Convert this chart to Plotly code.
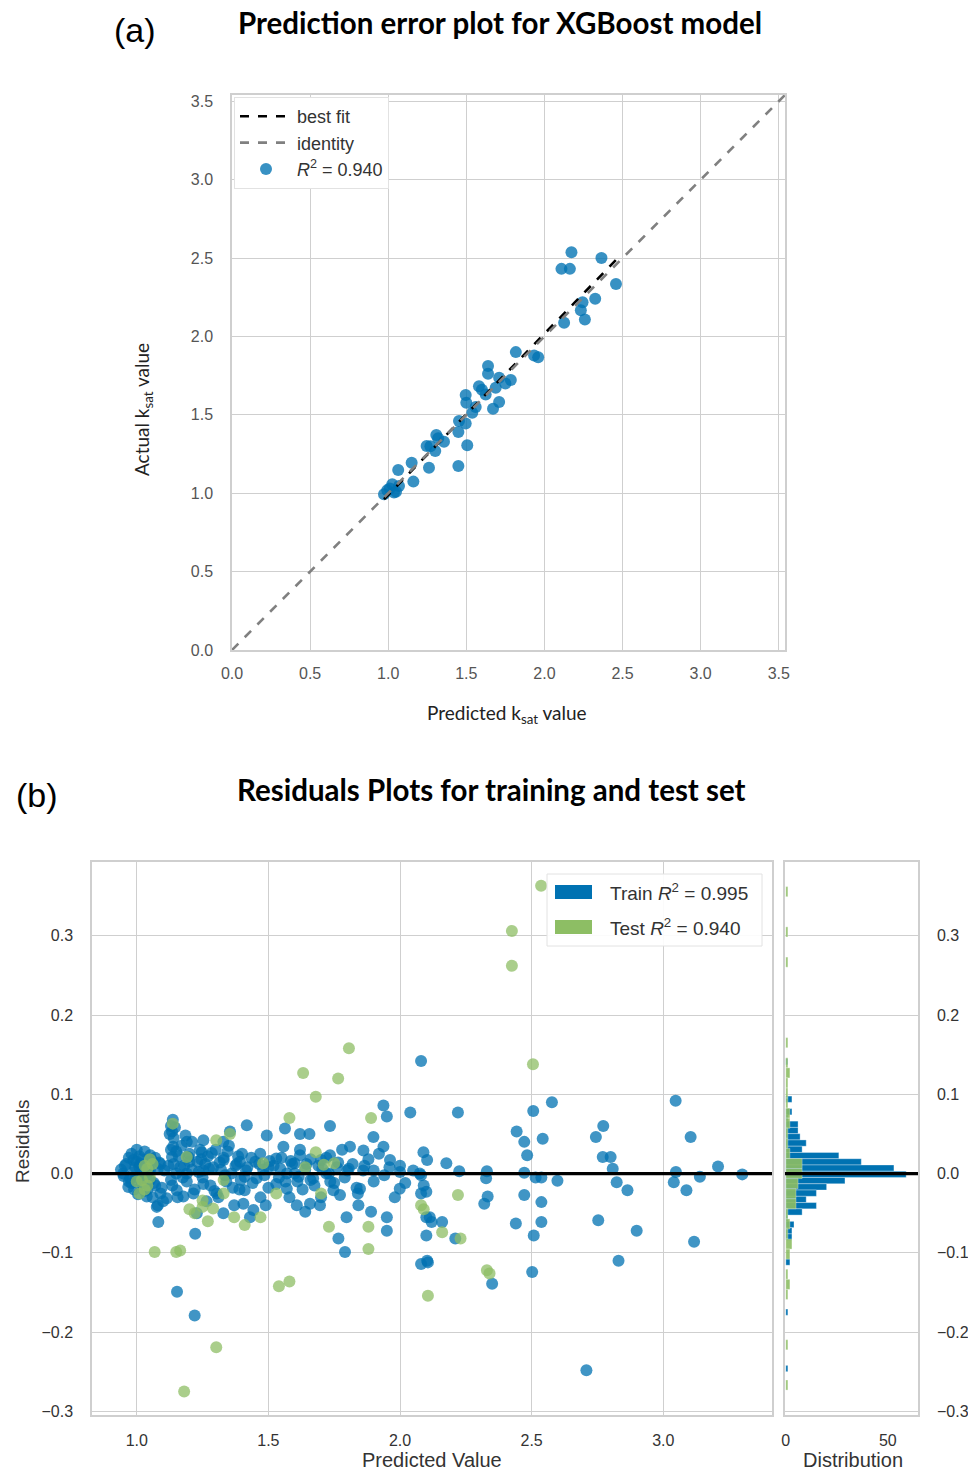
import numpy as np
import plotly.graph_objects as go

# ---------------- data: panel (a) prediction error (test set) ----------------
a_pred = [2.173, 2.365, 2.109, 2.163, 2.458, 2.325, 2.244, 2.233, 2.259, 2.126,
          1.817, 1.934, 1.960, 1.639, 1.639, 1.785, 1.710, 1.581, 1.624, 1.688,
          1.496, 1.500, 1.710, 1.671, 1.538, 1.453, 1.496, 1.449, 1.506, 1.449,
          1.308, 1.357, 1.246, 1.301, 1.261, 1.150, 1.064, 1.161, 1.026, 0.994,
          1.037, 0.973, 1.069, 1.600, 1.750, 1.560, 1.270, 1.320, 1.010, 1.050]
a_actual = [2.537, 2.501, 2.431, 2.431, 2.335, 2.240, 2.218, 2.167, 2.108, 2.087,
            1.900, 1.879, 1.868, 1.811, 1.762, 1.722, 1.737, 1.683, 1.630, 1.673,
            1.626, 1.577, 1.582, 1.539, 1.513, 1.460, 1.444, 1.390, 1.306, 1.174,
            1.371, 1.329, 1.301, 1.269, 1.163, 1.195, 1.148, 1.074, 1.057, 1.019,
            1.004, 0.993, 1.046, 1.660, 1.700, 1.550, 1.300, 1.350, 1.030, 1.010]
a_r2_label = "<i>R</i><sup>2</sup>\u00a0=\u00a00.940"

# ---------------- data: panel (b) residuals ----------------
train_pred = [
    1.137, 1.134, 1.190, 1.138, 1.134, 1.196, 1.247, 1.253, 1.329, 1.354, 1.418, 1.494, 1.563, 1.620, 1.656,
    1.734, 1.937, 1.950, 2.039, 1.899, 1.861, 1.937, 1.962, 2.089, 1.810, 1.734, 1.557, 1.469, 1.392, 1.051,
    0.987, 0.949, 0.968, 1.025, 1.038, 1.076, 1.082, 1.114, 1.152, 1.177, 1.228, 1.222, 1.253, 1.304, 1.329,
    1.253, 1.190, 1.330, 1.410, 1.410, 1.405, 1.443, 1.430, 1.490, 1.530, 1.570, 1.608, 1.640, 1.658, 1.696,
    1.747, 1.772, 1.766, 1.797, 1.791, 1.848, 1.842, 1.890, 1.950, 1.950, 1.999, 2.100, 2.075, 2.113, 2.106,
    1.500, 1.600, 1.660, 1.720, 1.800, 1.900, 2.000, 1.600, 1.530, 1.620, 1.700,
    2.220, 2.506, 2.577, 2.443, 2.472, 2.542, 2.483, 2.772, 2.744, 2.770, 2.800, 2.808, 2.823, 2.864, 3.047,
    3.104, 3.048, 3.040, 3.088, 3.139, 3.208, 3.300, 2.899, 2.753, 2.830, 3.117, 2.103, 2.176, 2.225, 2.330,
    2.327, 2.333, 2.320, 2.472, 2.515, 2.537, 2.598, 2.472, 2.537, 2.440, 2.537, 2.508, 2.502, 2.080, 2.090,
    2.080, 2.100, 2.120, 2.160, 2.100, 2.210, 2.103, 2.080, 1.153, 1.220, 2.708, 2.350, 2.080,
    0.940, 0.950, 0.960, 0.970, 0.970, 0.980, 0.990, 0.990, 1.000, 1.000, 1.010, 1.010, 1.020, 1.020, 1.030,
    1.030, 1.040, 1.040, 1.050, 1.050, 1.060, 1.060, 1.070, 1.070, 1.080, 1.090, 1.090, 1.100, 0.980, 1.000,
    1.030, 1.080,
    1.130, 1.140, 1.130, 1.140, 1.150, 1.130, 1.160, 1.170, 1.180, 1.190, 1.200, 1.210, 1.210, 1.220, 1.230,
    1.240, 1.250, 1.260, 1.270, 1.280, 1.290, 1.300, 1.310, 1.320, 1.330, 1.340, 1.350, 1.360, 1.370, 1.380,
    1.390, 1.400, 1.420, 1.440, 1.450, 1.470, 1.480, 1.500, 1.520, 1.540, 1.550, 1.570, 1.580, 1.590, 1.610,
    1.620, 1.630, 1.640, 1.660, 1.670, 1.690, 1.700, 1.720, 1.730, 1.750, 1.760, 1.780, 1.790, 1.820, 1.840,
    1.860, 1.880, 1.900, 1.920, 1.940, 1.960, 1.980, 2.000, 2.020, 2.050,
    1.120, 1.125, 1.135, 1.145, 1.150, 1.155, 1.165, 1.175, 1.185, 1.200, 1.215, 1.235, 1.245, 1.265, 1.275,
    1.285, 1.295, 1.315, 1.335, 1.345, 1.365, 1.375, 1.385, 1.395, 1.415, 1.435, 1.455, 1.465, 1.485, 1.505,
    0.955, 0.975, 0.995, 1.005, 1.015, 1.035, 1.045, 1.055, 1.065, 1.085, 1.095, 1.105, 1.545, 1.565, 1.585,
    1.615, 1.645, 1.675, 1.705, 1.735, 1.765, 1.805, 1.835, 1.865]
train_resid = [
    0.068, 0.053, 0.040, 0.034, 0.021, 0.021, 0.027, 0.042, 0.040, 0.053, 0.061, 0.048, 0.057, 0.050, 0.050,
    0.060, 0.086, 0.072, 0.077, 0.046, 0.029, 0.034, 0.017, 0.027, 0.034, 0.023, 0.034, 0.025, 0.015, 0.023,
    0.017, 0.000, -0.017, -0.017, -0.029, -0.042, -0.061, -0.031, -0.021, -0.029, -0.050, -0.076, -0.013, -0.025, -0.050,
    0.004, 0.000, 0.017, -0.004, -0.021, -0.038, -0.046, -0.055, -0.040, -0.013, -0.019, -0.040, -0.048, -0.038, -0.040,
    -0.021, -0.027, -0.082, -0.055, -0.099, -0.019, -0.040, -0.048, -0.055, -0.072, -0.019, -0.023, 0.000, -0.055, -0.112,
    0.008, 0.000, -0.008, 0.000, 0.004, 0.004, 0.002, 0.013, 0.019, 0.023, 0.017,
    0.077, 0.079, 0.090, 0.053, 0.040, 0.044, 0.023, 0.060, 0.046, 0.021, 0.021, 0.006, -0.011, -0.021, 0.092,
    0.046, 0.002, -0.011, -0.021, -0.004, 0.009, -0.001, -0.072, -0.059, -0.110, -0.086, 0.017, 0.013, 0.003, 0.003,
    -0.006, -0.029, -0.038, 0.001, -0.005, -0.005, -0.009, -0.027, -0.036, -0.063, -0.061, -0.078, -0.124, -0.002, -0.015,
    -0.025, -0.055, -0.061, -0.061, -0.078, -0.082, -0.110, -0.114, -0.149, -0.179, -0.248, -0.139, 0.142,
    0.005, -0.003, 0.012, 0.020, -0.010, 0.025, 0.002, -0.020, 0.015, -0.005, 0.022, 0.008, -0.012, 0.018, 0.000,
    0.028, -0.020, 0.010, 0.004, -0.008, 0.016, -0.030, 0.020, -0.015, 0.006, -0.025, 0.012, -0.035, -0.012, 0.030,
    -0.022, -0.040,
    0.060, 0.045, 0.030, 0.012, 0.000, -0.008, 0.022, 0.035, 0.010, -0.010, 0.025, 0.040, 0.005, -0.020, 0.015,
    0.030, -0.005, 0.012, 0.022, -0.015, 0.008, 0.030, -0.030, 0.005, 0.020, -0.010, 0.035, 0.000, -0.040, 0.012,
    -0.020, 0.025, 0.008, -0.012, 0.015, -0.030, 0.005, -0.018, 0.010, -0.005, 0.020, 0.000, -0.030, 0.012, -0.010,
    0.030, -0.020, 0.005, 0.018, -0.006, 0.010, -0.030, 0.020, 0.000, -0.012, 0.008, 0.030, -0.005, 0.012, -0.025,
    0.004, 0.018, -0.010, 0.025, -0.002, 0.008, -0.030, 0.010, -0.012, 0.004,
    0.010, 0.050, -0.015, 0.058, 0.028, -0.030, 0.008, -0.005, 0.048, 0.015, -0.025, 0.002, 0.018, -0.035, 0.006,
    0.026, -0.022, 0.014, -0.002, 0.028, -0.018, 0.010, 0.022, -0.008, 0.004, 0.020, -0.006, 0.012, -0.002, 0.016,
    0.010, -0.006, 0.008, -0.026, 0.012, -0.004, 0.006, 0.018, -0.012, 0.014, -0.018, 0.004, 0.006, -0.010, 0.016,
    -0.004, 0.012, -0.015, 0.006, -0.010, 0.014, 0.006, -0.018, 0.010]

test_pred = [2.536, 2.425, 2.425, 2.505, 1.806, 1.632, 1.765, 1.680, 1.890, 1.580, 1.137, 1.190, 1.302, 1.354,
             1.680, 1.480, 1.640, 1.710, 1.750, 1.040, 1.020, 1.010, 1.330, 1.330, 1.250, 1.250, 1.290, 1.530,
             1.700, 1.470, 1.410, 1.730, 1.880, 1.880, 1.068, 1.150, 1.165, 2.090, 2.220, 2.080, 2.160, 2.230,
             2.330, 1.302, 1.180, 1.540, 1.580, 2.106, 2.340, 1.030, 1.050, 1.040, 1.060, 1.030, 1.050, 1.000,
             1.200, 1.220, 1.370, 1.270]
test_resid = [0.363, 0.306, 0.262, 0.138, 0.158, 0.127, 0.120, 0.097, 0.070, 0.070, 0.063, 0.021, 0.042, 0.050,
              0.027, 0.013, 0.008, 0.011, 0.013, 0.006, -0.008, -0.025, -0.008, -0.025, -0.034, -0.042, -0.044, -0.025,
              -0.025, -0.055, -0.065, -0.067, -0.067, -0.095, -0.099, -0.099, -0.097, -0.045, -0.027, -0.040, -0.074, -0.082,
              -0.122, -0.219, -0.275, -0.142, -0.136, -0.154, -0.126, 0.010, -0.005, -0.015, 0.012, -0.020, 0.018, -0.010,
              -0.045, -0.050, -0.055, -0.060]

# histogram bins (centres and counts)
train_bin_centres = [0.1412, 0.0938, 0.0780, 0.0701, 0.0622, 0.0543, 0.0464, 0.0385, 0.0306, 0.0227, 0.0148,
                     0.0069, -0.0010, -0.0089, -0.0168, -0.0247, -0.0326, -0.0405, -0.0484, -0.0563, -0.0642,
                     -0.0721, -0.0800, -0.1116, -0.1748, -0.2459]
train_bin_counts = [1, 3, 3, 1, 6, 6, 7, 10, 8, 26, 37, 53, 59, 29, 20, 15, 10, 15, 8, 1, 4, 3, 3, 2, 1, 1]
test_bin_centres = [0.3556, 0.3048, 0.2667, 0.1651, 0.1397, 0.1270, 0.1143, 0.1016, 0.0889, 0.0762, 0.0635,
                    0.0508, 0.0381, 0.0254, 0.0127, 0.0000, -0.0127, -0.0254, -0.0381, -0.0508, -0.0635,
                    -0.0762, -0.0889, -0.1016, -0.1270, -0.1397, -0.1524, -0.2159, -0.2667]
test_bin_counts = [1, 1, 1, 1, 1, 2, 1, 1, 1, 2, 2, 1, 1, 2, 8, 8, 6, 5, 5, 1, 2, 1, 3, 2, 1, 2, 1, 1, 1]

train_label = "Train <i>R</i><sup>2</sup>\u00a0=\u00a00.995"
test_label = "Test <i>R</i><sup>2</sup>\u00a0=\u00a00.940"

a_ticks = [0.0, 0.5, 1.0, 1.5, 2.0, 2.5, 3.0, 3.5]
b_xticks = [1.0, 1.5, 2.0, 2.5, 3.0]
b_yticks = [-0.3, -0.2, -0.1, 0.0, 0.1, 0.2, 0.3]
hist_ticks = [0, 50]

# ---------------- styling ----------------
W, H = 968, 1471
BLUE = "#0072B2"
GREEN = "#8DBE64"
GRID = "#cfcfcf"
SANS = "Liberation Sans, Arial, sans-serif"
TITLE_FONT = "Lato, Open Sans, sans-serif"


def px(x):
    return x / W


def py(y):
    return 1 - y / H


fig = go.Figure()

# panel (a)
fig.add_trace(go.Scatter(x=a_pred, y=a_actual, mode="markers", name=a_r2_label,
                         marker=dict(color=BLUE, size=12, opacity=0.78, line=dict(width=0)),
                         xaxis="x", yaxis="y", legend="legend", legendrank=3))
coef = np.polyfit(a_pred, a_actual, 1)
bx = np.array([min(a_pred), max(a_pred)])
fig.add_trace(go.Scatter(x=bx, y=np.polyval(coef, bx), mode="lines", name="best fit",
                         line=dict(color="black", width=2.6, dash="dash"),
                         xaxis="x", yaxis="y", legend="legend", legendrank=1))
fig.add_trace(go.Scatter(x=[0, 3.54], y=[0, 3.54], mode="lines", name="identity",
                         line=dict(color="#808080", width=2.6, dash="dash"),
                         xaxis="x", yaxis="y", legend="legend", legendrank=2))

# panel (b) scatter
fig.add_trace(go.Scatter(x=train_pred, y=train_resid, mode="markers", showlegend=False,
                         marker=dict(color=BLUE, size=12, opacity=0.75, line=dict(width=0)),
                         xaxis="x2", yaxis="y2"))
fig.add_trace(go.Scatter(x=test_pred, y=test_resid, mode="markers", showlegend=False,
                         marker=dict(color=GREEN, size=12, opacity=0.75, line=dict(width=0)),
                         xaxis="x2", yaxis="y2"))

# histogram panel
fig.add_trace(go.Bar(x=train_bin_counts, y=train_bin_centres, orientation="h", width=0.0079,
                     marker=dict(color=BLUE, line=dict(color="rgba(255,255,255,0.55)", width=0.6)),
                     showlegend=False, xaxis="x3", yaxis="y3"))
fig.add_trace(go.Bar(x=test_bin_counts, y=test_bin_centres, orientation="h", width=0.0127,
                     marker=dict(color=GREEN, opacity=0.9, line=dict(color="rgba(255,255,255,0.55)", width=0.6)),
                     showlegend=False, xaxis="x3", yaxis="y3"))

axis_common = dict(showgrid=True, gridcolor=GRID, gridwidth=1.3, zeroline=False, automargin=False,
                   showline=True, linecolor=GRID, linewidth=1.5, mirror=True, ticks="")

fig.update_layout(
    width=W, height=H, margin=dict(l=0, r=0, t=0, b=0, autoexpand=False),
    paper_bgcolor="white", plot_bgcolor="white", barmode="overlay",
    xaxis=dict(domain=[px(232), px(785)], range=[0, 3.54], tickvals=a_ticks, tickformat=".1f",
               tickfont=dict(family=SANS, size=16, color="#555555"), anchor="y",
               ticklabelstandoff=8, **axis_common),
    yaxis=dict(domain=[py(650), py(95)], range=[0, 3.54], tickvals=a_ticks, tickformat=".1f",
               tickfont=dict(family=SANS, size=16, color="#555555"), anchor="x",
               ticklabelstandoff=14, **axis_common),
    xaxis2=dict(domain=[px(92), px(772)], range=[0.83, 3.413], tickvals=b_xticks, tickformat=".1f",
                tickfont=dict(family=SANS, size=16, color="#333333"), anchor="y2",
                ticklabelstandoff=10, **axis_common),
    yaxis2=dict(domain=[py(1415), py(862)], range=[-0.3045, 0.393], tickvals=b_yticks, tickformat=".1f",
                tickfont=dict(family=SANS, size=16, color="#333333"), anchor="x2",
                ticklabelstandoff=14, **axis_common),
    xaxis3=dict(domain=[px(785), px(918)], range=[-0.4, 64.8], tickvals=hist_ticks,
                tickfont=dict(family=SANS, size=16, color="#333333"), anchor="y3", automargin=False,
                ticklabelstandoff=10, showgrid=False, zeroline=False, showline=True, linecolor=GRID,
                linewidth=1.5, mirror=True, ticks=""),
    yaxis3=dict(domain=[py(1415), py(862)], range=[-0.3045, 0.393], tickvals=b_yticks, tickformat=".1f",
                tickfont=dict(family=SANS, size=16, color="#333333"), anchor="x3", side="right",
                ticklabelstandoff=14, matches="y2", **axis_common),
    legend=dict(x=px(234), y=py(97), xanchor="left", yanchor="top", bgcolor="white",
                bordercolor="#e2e2e2", borderwidth=1, font=dict(family=SANS, size=18, color="#333333"),
                itemwidth=52, tracegroupgap=6),
)

# zero lines
fig.add_shape(type="line", xref="x2 domain", yref="y2", x0=0, x1=1, y0=0, y1=0,
              line=dict(color="black", width=3.2))
fig.add_shape(type="line", xref="x3 domain", yref="y3", x0=0, x1=1, y0=0, y1=0,
              line=dict(color="black", width=3.2))

# manual legend for panel (b)
fig.add_shape(type="rect", xref="paper", yref="paper", x0=px(547), x1=px(762), y0=py(946), y1=py(874),
              line=dict(color="#e2e2e2", width=1), fillcolor="rgba(255,255,255,0.9)")
fig.add_shape(type="rect", xref="paper", yref="paper", x0=px(555), x1=px(592), y0=py(899), y1=py(885),
              line=dict(width=0), fillcolor=BLUE)
fig.add_shape(type="rect", xref="paper", yref="paper", x0=px(555), x1=px(592), y0=py(934), y1=py(920),
              line=dict(width=0), fillcolor=GREEN)

ann = [
    dict(text="(a)", x=px(135), y=py(30), font=dict(family=SANS, size=34, color="black")),
    dict(text="<b>Prediction error plot for XGBoost model</b>", x=px(500), y=py(22),
         font=dict(family=TITLE_FONT, size=29.5, color="black")),
    dict(text="(b)", x=px(37), y=py(795), font=dict(family=SANS, size=34, color="black")),
    dict(text="<b>Residuals Plots for training and test set</b>", x=px(491), y=py(789),
         font=dict(family=TITLE_FONT, size=29.5, color="black")),
    dict(text="Predicted k<sub>sat</sub> value", x=px(507), y=py(714),
         font=dict(family=TITLE_FONT, size=19, color="#222222")),
    dict(text="Actual k<sub>sat</sub> value", x=px(143), y=py(410), textangle=-90,
         font=dict(family=TITLE_FONT, size=19, color="#222222")),
    dict(text="Residuals", x=px(22), y=py(1142), textangle=-90,
         font=dict(family=SANS, size=19, color="#333333")),
    dict(text="Predicted Value", x=px(432), y=py(1460),
         font=dict(family=SANS, size=20, color="#333333")),
    dict(text="Distribution", x=px(853), y=py(1460),
         font=dict(family=SANS, size=20, color="#333333")),
    dict(text=train_label, x=px(608), y=py(892), xanchor="left",
         font=dict(family=SANS, size=19, color="#333333")),
    dict(text=test_label, x=px(608), y=py(927), xanchor="left",
         font=dict(family=SANS, size=19, color="#333333")),
]
for a in ann:
    a.setdefault("xanchor", "center")
    fig.add_annotation(xref="paper", yref="paper", showarrow=False, yanchor="middle", **a)

fig.write_html("out.html", config={"displayModeBar": False},
               post_script="document.body.style.margin='0';")
